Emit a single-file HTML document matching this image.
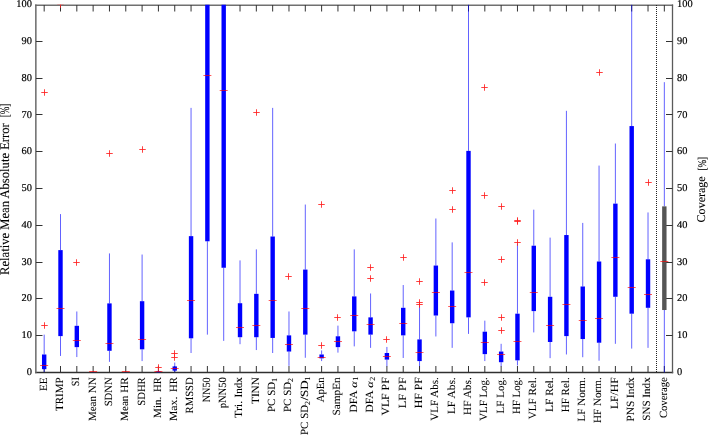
<!DOCTYPE html>
<html><head><meta charset="utf-8"><style>html,body{margin:0;padding:0;background:#fff;width:709px;height:436px;overflow:hidden}svg{display:block}text{text-rendering:geometricPrecision}</style></head>
<body>
<svg width="709" height="436" viewBox="0 0 709 436">
<defs><clipPath id="c"><rect x="35" y="4.75" width="639" height="367.75"/></clipPath></defs>
<rect width="709" height="436" fill="#fff"/>
<path d="M35.1 5.3H673.1" stroke="#707070" stroke-width="1.5" fill="none"/>
<path d="M35.1 372.6H673.2" stroke="#303030" stroke-width="1.5" fill="none"/>
<path d="M35.85 4.6V373.3" stroke="#6a6a6a" stroke-width="1.5" fill="none"/>
<path d="M672.5 4.6V373.3" stroke="#5a5a5a" stroke-width="1.3" fill="none"/>
<path d="M44.18 372V366M44.18 5V11.5M60.5 372V366M60.5 5V11.5M76.82 372V366M76.82 5V11.5M93.14 372V366M93.14 5V11.5M109.46 372V366M109.46 5V11.5M125.78 372V366M125.78 5V11.5M142.1 372V366M142.1 5V11.5M158.42 372V366M158.42 5V11.5M174.74 372V366M174.74 5V11.5M191.06 372V366M191.06 5V11.5M207.38 372V366M207.38 5V11.5M223.7 372V366M223.7 5V11.5M240.02 372V366M240.02 5V11.5M256.34 372V366M256.34 5V11.5M272.66 372V366M272.66 5V11.5M288.98 372V366M288.98 5V11.5M305.3 372V366M305.3 5V11.5M321.62 372V366M321.62 5V11.5M337.94 372V366M337.94 5V11.5M354.26 372V366M354.26 5V11.5M370.58 372V366M370.58 5V11.5M386.9 372V366M386.9 5V11.5M403.22 372V366M403.22 5V11.5M419.54 372V366M419.54 5V11.5M435.86 372V366M435.86 5V11.5M452.18 372V366M452.18 5V11.5M468.5 372V366M468.5 5V11.5M484.82 372V366M484.82 5V11.5M501.14 372V366M501.14 5V11.5M517.46 372V366M517.46 5V11.5M533.78 372V366M533.78 5V11.5M550.1 372V366M550.1 5V11.5M566.42 372V366M566.42 5V11.5M582.74 372V366M582.74 5V11.5M599.06 372V366M599.06 5V11.5M615.38 372V366M615.38 5V11.5M631.7 372V366M631.7 5V11.5M648.02 372V366M648.02 5V11.5M664.34 372V366M664.34 5V11.5M36 335.5H42.5M672.5 335.5H666M36 298.5H42.5M672.5 298.5H666M36 262.5H42.5M672.5 262.5H666M36 225.5H42.5M672.5 225.5H666M36 188.5H42.5M672.5 188.5H666M36 151.5H42.5M672.5 151.5H666M36 114.5H42.5M672.5 114.5H666M36 78.5H42.5M672.5 78.5H666M36 41.5H42.5M672.5 41.5H666" stroke="#333" stroke-width="1" fill="none"/>
<g clip-path="url(#c)">
<line x1="656.5" y1="5" x2="656.5" y2="372" stroke="#222" stroke-width="1" stroke-dasharray="1 1"/>
<line x1="44.18" y1="372.12" x2="44.18" y2="369.18" stroke="#0000ff" stroke-width="0.62"/>
<line x1="44.18" y1="354.48" x2="44.18" y2="334.63" stroke="#0000ff" stroke-width="0.62"/>
<rect x="41.98" y="354.48" width="4.4" height="14.70" fill="#0000ff"/>
<line x1="40.18" y1="365.5" x2="48.18" y2="365.5" stroke="#ff0000" stroke-width="1" stroke-opacity="0.65"/>
<path d="M41.25 325.50H47.75M44.5 322.25V328.75" stroke="#ff2020" stroke-width="1" fill="none" stroke-opacity="0.85"/>
<path d="M41.25 92.50H47.75M44.5 89.25V95.75" stroke="#ff2020" stroke-width="1" fill="none" stroke-opacity="0.85"/>
<line x1="60.5" y1="355.95" x2="60.5" y2="336.10" stroke="#0000ff" stroke-width="0.62"/>
<line x1="60.5" y1="250.11" x2="60.5" y2="214.09" stroke="#0000ff" stroke-width="0.62"/>
<rect x="58.30" y="250.11" width="4.4" height="86.00" fill="#0000ff"/>
<line x1="56.50" y1="308.5" x2="64.50" y2="308.5" stroke="#ff0000" stroke-width="1" stroke-opacity="0.65"/>
<path d="M57.25 4.50H63.75M60.5 1.25V7.75" stroke="#ff2020" stroke-width="1" fill="none" stroke-opacity="0.85"/>
<line x1="76.82" y1="357.05" x2="76.82" y2="347.12" stroke="#0000ff" stroke-width="0.62"/>
<line x1="76.82" y1="325.81" x2="76.82" y2="311.48" stroke="#0000ff" stroke-width="0.62"/>
<rect x="74.62" y="325.81" width="4.4" height="21.31" fill="#0000ff"/>
<line x1="72.82" y1="340.5" x2="80.82" y2="340.5" stroke="#ff0000" stroke-width="1" stroke-opacity="0.65"/>
<path d="M73.25 262.50H79.75M76.5 259.25V265.75" stroke="#ff2020" stroke-width="1" fill="none" stroke-opacity="0.85"/>
<line x1="93.14" y1="372.85" x2="93.14" y2="372.85" stroke="#0000ff" stroke-width="0.62"/>
<line x1="93.14" y1="372.67" x2="93.14" y2="372.48" stroke="#0000ff" stroke-width="0.62"/>
<rect x="90.94" y="372.67" width="4.4" height="0.18" fill="#0000ff"/>
<line x1="89.14" y1="371.5" x2="97.14" y2="371.5" stroke="#ff0000" stroke-width="1" stroke-opacity="0.65"/>
<line x1="109.46" y1="361.83" x2="109.46" y2="350.80" stroke="#0000ff" stroke-width="0.62"/>
<line x1="109.46" y1="303.39" x2="109.46" y2="253.41" stroke="#0000ff" stroke-width="0.62"/>
<rect x="107.26" y="303.39" width="4.4" height="47.41" fill="#0000ff"/>
<line x1="105.46" y1="343.5" x2="113.46" y2="343.5" stroke="#ff0000" stroke-width="1" stroke-opacity="0.65"/>
<path d="M106.25 153.50H112.75M109.5 150.25V156.75" stroke="#ff2020" stroke-width="1" fill="none" stroke-opacity="0.85"/>
<line x1="125.78" y1="372.85" x2="125.78" y2="372.85" stroke="#0000ff" stroke-width="0.62"/>
<line x1="125.78" y1="372.67" x2="125.78" y2="372.48" stroke="#0000ff" stroke-width="0.62"/>
<rect x="123.58" y="372.67" width="4.4" height="0.18" fill="#0000ff"/>
<line x1="121.78" y1="371.5" x2="129.78" y2="371.5" stroke="#ff0000" stroke-width="1" stroke-opacity="0.65"/>
<line x1="142.1" y1="361.09" x2="142.1" y2="349.33" stroke="#0000ff" stroke-width="0.62"/>
<line x1="142.1" y1="301.19" x2="142.1" y2="254.52" stroke="#0000ff" stroke-width="0.62"/>
<rect x="139.90" y="301.19" width="4.4" height="48.14" fill="#0000ff"/>
<line x1="138.10" y1="339.5" x2="146.10" y2="339.5" stroke="#ff0000" stroke-width="1" stroke-opacity="0.65"/>
<path d="M139.25 149.50H145.75M142.5 146.25V152.75" stroke="#ff2020" stroke-width="1" fill="none" stroke-opacity="0.85"/>
<line x1="158.42" y1="372.85" x2="158.42" y2="372.48" stroke="#0000ff" stroke-width="0.62"/>
<line x1="158.42" y1="371.38" x2="158.42" y2="370.65" stroke="#0000ff" stroke-width="0.62"/>
<rect x="156.22" y="371.38" width="4.4" height="1.10" fill="#0000ff"/>
<line x1="154.42" y1="371.5" x2="162.42" y2="371.5" stroke="#ff0000" stroke-width="1" stroke-opacity="0.65"/>
<path d="M155.25 367.50H161.75M158.5 364.25V370.75" stroke="#ff2020" stroke-width="1" fill="none" stroke-opacity="0.85"/>
<line x1="174.74" y1="372.48" x2="174.74" y2="370.65" stroke="#0000ff" stroke-width="0.62"/>
<line x1="174.74" y1="366.42" x2="174.74" y2="362.56" stroke="#0000ff" stroke-width="0.62"/>
<rect x="172.54" y="366.42" width="4.4" height="4.23" fill="#0000ff"/>
<line x1="170.74" y1="368.5" x2="178.74" y2="368.5" stroke="#ff0000" stroke-width="1" stroke-opacity="0.65"/>
<path d="M171.25 357.50H177.75M174.5 354.25V360.75" stroke="#ff2020" stroke-width="1" fill="none" stroke-opacity="0.85"/>
<path d="M171.25 353.50H177.75M174.5 350.25V356.75" stroke="#ff2020" stroke-width="1" fill="none" stroke-opacity="0.85"/>
<line x1="191.06" y1="353.00" x2="191.06" y2="338.31" stroke="#0000ff" stroke-width="0.62"/>
<line x1="191.06" y1="236.14" x2="191.06" y2="107.88" stroke="#0000ff" stroke-width="0.62"/>
<rect x="188.86" y="236.14" width="4.4" height="102.16" fill="#0000ff"/>
<line x1="187.06" y1="300.5" x2="195.06" y2="300.5" stroke="#ff0000" stroke-width="1" stroke-opacity="0.65"/>
<line x1="207.38" y1="334.63" x2="207.38" y2="241.29" stroke="#0000ff" stroke-width="0.62"/>
<line x1="207.38" y1="-13.02" x2="207.38" y2="-13.02" stroke="#0000ff" stroke-width="0.62"/>
<rect x="205.18" y="-13.02" width="4.4" height="254.31" fill="#0000ff"/>
<line x1="203.38" y1="75.5" x2="211.38" y2="75.5" stroke="#ff0000" stroke-width="1" stroke-opacity="0.65"/>
<line x1="223.7" y1="340.88" x2="223.7" y2="267.75" stroke="#0000ff" stroke-width="0.62"/>
<line x1="223.7" y1="-13.02" x2="223.7" y2="-13.02" stroke="#0000ff" stroke-width="0.62"/>
<rect x="221.50" y="-13.02" width="4.4" height="280.77" fill="#0000ff"/>
<line x1="219.70" y1="90.5" x2="227.70" y2="90.5" stroke="#ff0000" stroke-width="1" stroke-opacity="0.65"/>
<line x1="240.02" y1="344.19" x2="240.02" y2="337.20" stroke="#0000ff" stroke-width="0.62"/>
<line x1="240.02" y1="303.21" x2="240.02" y2="260.40" stroke="#0000ff" stroke-width="0.62"/>
<rect x="237.82" y="303.21" width="4.4" height="33.99" fill="#0000ff"/>
<line x1="236.02" y1="327.5" x2="244.02" y2="327.5" stroke="#ff0000" stroke-width="1" stroke-opacity="0.65"/>
<line x1="256.34" y1="350.06" x2="256.34" y2="337.20" stroke="#0000ff" stroke-width="0.62"/>
<line x1="256.34" y1="293.84" x2="256.34" y2="249.37" stroke="#0000ff" stroke-width="0.62"/>
<rect x="254.14" y="293.84" width="4.4" height="43.37" fill="#0000ff"/>
<line x1="252.34" y1="325.5" x2="260.34" y2="325.5" stroke="#ff0000" stroke-width="1" stroke-opacity="0.65"/>
<path d="M253.25 112.50H259.75M256.5 109.25V115.75" stroke="#ff2020" stroke-width="1" fill="none" stroke-opacity="0.85"/>
<line x1="272.66" y1="353.00" x2="272.66" y2="337.94" stroke="#0000ff" stroke-width="0.62"/>
<line x1="272.66" y1="236.51" x2="272.66" y2="107.88" stroke="#0000ff" stroke-width="0.62"/>
<rect x="270.46" y="236.51" width="4.4" height="101.43" fill="#0000ff"/>
<line x1="268.66" y1="300.5" x2="276.66" y2="300.5" stroke="#ff0000" stroke-width="1" stroke-opacity="0.65"/>
<line x1="288.98" y1="365.87" x2="288.98" y2="351.54" stroke="#0000ff" stroke-width="0.62"/>
<line x1="288.98" y1="335.37" x2="288.98" y2="311.48" stroke="#0000ff" stroke-width="0.62"/>
<rect x="286.78" y="335.37" width="4.4" height="16.17" fill="#0000ff"/>
<line x1="284.98" y1="344.5" x2="292.98" y2="344.5" stroke="#ff0000" stroke-width="1" stroke-opacity="0.65"/>
<path d="M285.25 276.50H291.75M288.5 273.25V279.75" stroke="#ff2020" stroke-width="1" fill="none" stroke-opacity="0.85"/>
<line x1="305.3" y1="357.78" x2="305.3" y2="334.63" stroke="#0000ff" stroke-width="0.62"/>
<line x1="305.3" y1="269.58" x2="305.3" y2="204.54" stroke="#0000ff" stroke-width="0.62"/>
<rect x="303.10" y="269.58" width="4.4" height="65.05" fill="#0000ff"/>
<line x1="301.30" y1="308.5" x2="309.30" y2="308.5" stroke="#ff0000" stroke-width="1" stroke-opacity="0.65"/>
<line x1="321.62" y1="361.09" x2="321.62" y2="358.33" stroke="#0000ff" stroke-width="0.62"/>
<line x1="321.62" y1="354.48" x2="321.62" y2="350.43" stroke="#0000ff" stroke-width="0.62"/>
<rect x="319.42" y="354.48" width="4.4" height="3.86" fill="#0000ff"/>
<line x1="317.62" y1="357.5" x2="325.62" y2="357.5" stroke="#ff0000" stroke-width="1" stroke-opacity="0.65"/>
<path d="M318.25 345.50H324.75M321.5 342.25V348.75" stroke="#ff2020" stroke-width="1" fill="none" stroke-opacity="0.85"/>
<path d="M318.25 204.50H324.75M321.5 201.25V207.75" stroke="#ff2020" stroke-width="1" fill="none" stroke-opacity="0.85"/>
<line x1="337.94" y1="352.64" x2="337.94" y2="347.12" stroke="#0000ff" stroke-width="0.62"/>
<line x1="337.94" y1="336.28" x2="337.94" y2="325.63" stroke="#0000ff" stroke-width="0.62"/>
<rect x="335.74" y="336.28" width="4.4" height="10.84" fill="#0000ff"/>
<line x1="333.94" y1="341.5" x2="341.94" y2="341.5" stroke="#ff0000" stroke-width="1" stroke-opacity="0.65"/>
<path d="M334.25 317.50H340.75M337.5 314.25V320.75" stroke="#ff2020" stroke-width="1" fill="none" stroke-opacity="0.85"/>
<line x1="354.26" y1="346.39" x2="354.26" y2="331.32" stroke="#0000ff" stroke-width="0.62"/>
<line x1="354.26" y1="296.41" x2="354.26" y2="249.37" stroke="#0000ff" stroke-width="0.62"/>
<rect x="352.06" y="296.41" width="4.4" height="34.91" fill="#0000ff"/>
<line x1="350.26" y1="315.5" x2="358.26" y2="315.5" stroke="#ff0000" stroke-width="1" stroke-opacity="0.65"/>
<line x1="370.58" y1="347.86" x2="370.58" y2="334.63" stroke="#0000ff" stroke-width="0.62"/>
<line x1="370.58" y1="317.36" x2="370.58" y2="293.47" stroke="#0000ff" stroke-width="0.62"/>
<rect x="368.38" y="317.36" width="4.4" height="17.27" fill="#0000ff"/>
<line x1="366.58" y1="324.5" x2="374.58" y2="324.5" stroke="#ff0000" stroke-width="1" stroke-opacity="0.65"/>
<path d="M367.25 278.50H373.75M370.5 275.25V281.75" stroke="#ff2020" stroke-width="1" fill="none" stroke-opacity="0.85"/>
<path d="M367.25 267.50H373.75M370.5 264.25V270.75" stroke="#ff2020" stroke-width="1" fill="none" stroke-opacity="0.85"/>
<line x1="386.9" y1="366.24" x2="386.9" y2="359.62" stroke="#0000ff" stroke-width="0.62"/>
<line x1="386.9" y1="353.00" x2="386.9" y2="346.94" stroke="#0000ff" stroke-width="0.62"/>
<rect x="384.70" y="353.00" width="4.4" height="6.62" fill="#0000ff"/>
<line x1="382.90" y1="356.5" x2="390.90" y2="356.5" stroke="#ff0000" stroke-width="1" stroke-opacity="0.65"/>
<path d="M383.25 339.50H389.75M386.5 336.25V342.75" stroke="#ff2020" stroke-width="1" fill="none" stroke-opacity="0.85"/>
<line x1="403.22" y1="357.97" x2="403.22" y2="335.37" stroke="#0000ff" stroke-width="0.62"/>
<line x1="403.22" y1="307.80" x2="403.22" y2="285.02" stroke="#0000ff" stroke-width="0.62"/>
<rect x="401.02" y="307.80" width="4.4" height="27.56" fill="#0000ff"/>
<line x1="399.22" y1="323.5" x2="407.22" y2="323.5" stroke="#ff0000" stroke-width="1" stroke-opacity="0.65"/>
<path d="M400.25 257.50H406.75M403.5 254.25V260.75" stroke="#ff2020" stroke-width="1" fill="none" stroke-opacity="0.85"/>
<line x1="419.54" y1="366.24" x2="419.54" y2="361.09" stroke="#0000ff" stroke-width="0.62"/>
<line x1="419.54" y1="339.41" x2="419.54" y2="305.60" stroke="#0000ff" stroke-width="0.62"/>
<rect x="417.34" y="339.41" width="4.4" height="21.68" fill="#0000ff"/>
<line x1="415.54" y1="352.5" x2="423.54" y2="352.5" stroke="#ff0000" stroke-width="1" stroke-opacity="0.65"/>
<path d="M416.25 304.50H422.75M419.5 301.25V307.75" stroke="#ff2020" stroke-width="1" fill="none" stroke-opacity="0.85"/>
<path d="M416.25 302.50H422.75M419.5 299.25V305.75" stroke="#ff2020" stroke-width="1" fill="none" stroke-opacity="0.85"/>
<path d="M416.25 281.50H422.75M419.5 278.25V284.75" stroke="#ff2020" stroke-width="1" fill="none" stroke-opacity="0.85"/>
<line x1="435.86" y1="336.47" x2="435.86" y2="315.52" stroke="#0000ff" stroke-width="0.62"/>
<line x1="435.86" y1="265.54" x2="435.86" y2="218.50" stroke="#0000ff" stroke-width="0.62"/>
<rect x="433.66" y="265.54" width="4.4" height="49.98" fill="#0000ff"/>
<line x1="431.86" y1="292.5" x2="439.86" y2="292.5" stroke="#ff0000" stroke-width="1" stroke-opacity="0.65"/>
<line x1="452.18" y1="347.86" x2="452.18" y2="323.24" stroke="#0000ff" stroke-width="0.62"/>
<line x1="452.18" y1="290.53" x2="452.18" y2="242.39" stroke="#0000ff" stroke-width="0.62"/>
<rect x="449.98" y="290.53" width="4.4" height="32.71" fill="#0000ff"/>
<line x1="448.18" y1="306.5" x2="456.18" y2="306.5" stroke="#ff0000" stroke-width="1" stroke-opacity="0.65"/>
<path d="M449.25 209.50H455.75M452.5 206.25V212.75" stroke="#ff2020" stroke-width="1" fill="none" stroke-opacity="0.85"/>
<path d="M449.25 190.50H455.75M452.5 187.25V193.75" stroke="#ff2020" stroke-width="1" fill="none" stroke-opacity="0.85"/>
<line x1="468.5" y1="333.90" x2="468.5" y2="317.36" stroke="#0000ff" stroke-width="0.62"/>
<line x1="468.5" y1="150.88" x2="468.5" y2="-13.02" stroke="#0000ff" stroke-width="0.62"/>
<rect x="466.30" y="150.88" width="4.4" height="166.48" fill="#0000ff"/>
<line x1="464.50" y1="272.5" x2="472.50" y2="272.5" stroke="#ff0000" stroke-width="1" stroke-opacity="0.65"/>
<line x1="484.82" y1="361.09" x2="484.82" y2="354.11" stroke="#0000ff" stroke-width="0.62"/>
<line x1="484.82" y1="331.69" x2="484.82" y2="320.67" stroke="#0000ff" stroke-width="0.62"/>
<rect x="482.62" y="331.69" width="4.4" height="22.42" fill="#0000ff"/>
<line x1="480.82" y1="342.5" x2="488.82" y2="342.5" stroke="#ff0000" stroke-width="1" stroke-opacity="0.65"/>
<path d="M481.25 282.50H487.75M484.5 279.25V285.75" stroke="#ff2020" stroke-width="1" fill="none" stroke-opacity="0.85"/>
<path d="M481.25 195.50H487.75M484.5 192.25V198.75" stroke="#ff2020" stroke-width="1" fill="none" stroke-opacity="0.85"/>
<path d="M481.25 87.50H487.75M484.5 84.25V90.75" stroke="#ff2020" stroke-width="1" fill="none" stroke-opacity="0.85"/>
<line x1="501.14" y1="366.24" x2="501.14" y2="362.19" stroke="#0000ff" stroke-width="0.62"/>
<line x1="501.14" y1="351.54" x2="501.14" y2="343.82" stroke="#0000ff" stroke-width="0.62"/>
<rect x="498.94" y="351.54" width="4.4" height="10.66" fill="#0000ff"/>
<line x1="497.14" y1="354.5" x2="505.14" y2="354.5" stroke="#ff0000" stroke-width="1" stroke-opacity="0.65"/>
<path d="M498.25 330.50H504.75M501.5 327.25V333.75" stroke="#ff2020" stroke-width="1" fill="none" stroke-opacity="0.85"/>
<path d="M498.25 317.50H504.75M501.5 314.25V320.75" stroke="#ff2020" stroke-width="1" fill="none" stroke-opacity="0.85"/>
<path d="M498.25 259.50H504.75M501.5 256.25V262.75" stroke="#ff2020" stroke-width="1" fill="none" stroke-opacity="0.85"/>
<path d="M498.25 206.50H504.75M501.5 203.25V209.75" stroke="#ff2020" stroke-width="1" fill="none" stroke-opacity="0.85"/>
<line x1="517.46" y1="365.50" x2="517.46" y2="360.36" stroke="#0000ff" stroke-width="0.62"/>
<line x1="517.46" y1="313.68" x2="517.46" y2="243.49" stroke="#0000ff" stroke-width="0.62"/>
<rect x="515.26" y="313.68" width="4.4" height="46.67" fill="#0000ff"/>
<line x1="513.46" y1="341.5" x2="521.46" y2="341.5" stroke="#ff0000" stroke-width="1" stroke-opacity="0.65"/>
<path d="M514.25 242.50H520.75M517.5 239.25V245.75" stroke="#ff2020" stroke-width="1" fill="none" stroke-opacity="0.85"/>
<path d="M514.25 221.50H520.75M517.5 218.25V224.75" stroke="#ff2020" stroke-width="1" fill="none" stroke-opacity="0.85"/>
<path d="M514.25 220.50H520.75M517.5 217.25V223.75" stroke="#ff2020" stroke-width="1" fill="none" stroke-opacity="0.85"/>
<line x1="533.78" y1="332.43" x2="533.78" y2="311.11" stroke="#0000ff" stroke-width="0.62"/>
<line x1="533.78" y1="245.70" x2="533.78" y2="209.68" stroke="#0000ff" stroke-width="0.62"/>
<rect x="531.58" y="245.70" width="4.4" height="65.41" fill="#0000ff"/>
<line x1="529.78" y1="292.5" x2="537.78" y2="292.5" stroke="#ff0000" stroke-width="1" stroke-opacity="0.65"/>
<line x1="550.1" y1="358.15" x2="550.1" y2="341.98" stroke="#0000ff" stroke-width="0.62"/>
<line x1="550.1" y1="296.78" x2="550.1" y2="237.61" stroke="#0000ff" stroke-width="0.62"/>
<rect x="547.90" y="296.78" width="4.4" height="45.20" fill="#0000ff"/>
<line x1="546.10" y1="325.5" x2="554.10" y2="325.5" stroke="#ff0000" stroke-width="1" stroke-opacity="0.65"/>
<line x1="566.42" y1="354.48" x2="566.42" y2="336.10" stroke="#0000ff" stroke-width="0.62"/>
<line x1="566.42" y1="235.04" x2="566.42" y2="110.82" stroke="#0000ff" stroke-width="0.62"/>
<rect x="564.22" y="235.04" width="4.4" height="101.06" fill="#0000ff"/>
<line x1="562.42" y1="304.5" x2="570.42" y2="304.5" stroke="#ff0000" stroke-width="1" stroke-opacity="0.65"/>
<line x1="582.74" y1="357.23" x2="582.74" y2="339.04" stroke="#0000ff" stroke-width="0.62"/>
<line x1="582.74" y1="286.49" x2="582.74" y2="222.91" stroke="#0000ff" stroke-width="0.62"/>
<rect x="580.54" y="286.49" width="4.4" height="52.55" fill="#0000ff"/>
<line x1="578.74" y1="320.5" x2="586.74" y2="320.5" stroke="#ff0000" stroke-width="1" stroke-opacity="0.65"/>
<line x1="599.06" y1="360.72" x2="599.06" y2="342.72" stroke="#0000ff" stroke-width="0.62"/>
<line x1="599.06" y1="261.50" x2="599.06" y2="165.58" stroke="#0000ff" stroke-width="0.62"/>
<rect x="596.86" y="261.50" width="4.4" height="81.22" fill="#0000ff"/>
<line x1="595.06" y1="318.5" x2="603.06" y2="318.5" stroke="#ff0000" stroke-width="1" stroke-opacity="0.65"/>
<path d="M596.25 72.50H602.75M599.5 69.25V75.75" stroke="#ff2020" stroke-width="1" fill="none" stroke-opacity="0.85"/>
<line x1="615.38" y1="343.82" x2="615.38" y2="296.78" stroke="#0000ff" stroke-width="0.62"/>
<line x1="615.38" y1="203.62" x2="615.38" y2="143.53" stroke="#0000ff" stroke-width="0.62"/>
<rect x="613.18" y="203.62" width="4.4" height="93.16" fill="#0000ff"/>
<line x1="611.38" y1="257.5" x2="619.38" y2="257.5" stroke="#ff0000" stroke-width="1" stroke-opacity="0.65"/>
<line x1="631.7" y1="348.60" x2="631.7" y2="313.68" stroke="#0000ff" stroke-width="0.62"/>
<line x1="631.7" y1="126.07" x2="631.7" y2="-13.02" stroke="#0000ff" stroke-width="0.62"/>
<rect x="629.50" y="126.07" width="4.4" height="187.61" fill="#0000ff"/>
<line x1="627.70" y1="287.5" x2="635.70" y2="287.5" stroke="#ff0000" stroke-width="1" stroke-opacity="0.65"/>
<line x1="648.02" y1="347.86" x2="648.02" y2="307.80" stroke="#0000ff" stroke-width="0.62"/>
<line x1="648.02" y1="259.29" x2="648.02" y2="212.44" stroke="#0000ff" stroke-width="0.62"/>
<rect x="645.82" y="259.29" width="4.4" height="48.51" fill="#0000ff"/>
<line x1="644.02" y1="294.5" x2="652.02" y2="294.5" stroke="#ff0000" stroke-width="1" stroke-opacity="0.65"/>
<path d="M645.25 182.50H651.75M648.5 179.25V185.75" stroke="#ff2020" stroke-width="1" fill="none" stroke-opacity="0.85"/>
<line x1="664.34" y1="376.53" x2="664.34" y2="310.01" stroke="#0000ff" stroke-width="0.62"/>
<line x1="664.34" y1="206.37" x2="664.34" y2="82.16" stroke="#0000ff" stroke-width="0.62"/>
<rect x="662.14" y="206.37" width="4.4" height="103.64" fill="#555555"/>
<line x1="660.34" y1="261.5" x2="668.34" y2="261.5" stroke="#ff0000" stroke-width="1" stroke-opacity="0.65"/>
</g>
<g font-family="Liberation Serif, serif" font-size="10.4" fill="#000" stroke="#000" stroke-width="0.18">
<text x="31.9" y="374.75" text-anchor="end">0</text>
<text x="677.1" y="374.75">0</text>
<text x="31.9" y="338.00" text-anchor="end">10</text>
<text x="677.1" y="338.00">10</text>
<text x="31.9" y="301.25" text-anchor="end">20</text>
<text x="677.1" y="301.25">20</text>
<text x="31.9" y="264.50" text-anchor="end">30</text>
<text x="677.1" y="264.50">30</text>
<text x="31.9" y="227.75" text-anchor="end">40</text>
<text x="677.1" y="227.75">40</text>
<text x="31.9" y="191.00" text-anchor="end">50</text>
<text x="677.1" y="191.00">50</text>
<text x="31.9" y="154.25" text-anchor="end">60</text>
<text x="677.1" y="154.25">60</text>
<text x="31.9" y="117.50" text-anchor="end">70</text>
<text x="677.1" y="117.50">70</text>
<text x="31.9" y="80.75" text-anchor="end">80</text>
<text x="677.1" y="80.75">80</text>
<text x="31.9" y="44.00" text-anchor="end">90</text>
<text x="677.1" y="44.00">90</text>
<text x="31.9" y="7.25" text-anchor="end">100</text>
<text x="677.1" y="7.25">100</text>
</g>
<g font-family="Liberation Serif, serif" font-size="11" fill="#000" stroke="#000" stroke-width="0.06">
<text transform="translate(46.58,377.3) rotate(-90)" text-anchor="end" textLength="13.8" lengthAdjust="spacingAndGlyphs">EE</text>
<text transform="translate(62.90,377.3) rotate(-90)" text-anchor="end" textLength="33.8" lengthAdjust="spacingAndGlyphs">TRIMP</text>
<text transform="translate(79.22,377.3) rotate(-90)" text-anchor="end" textLength="8.9" lengthAdjust="spacingAndGlyphs">SI</text>
<text transform="translate(95.54,377.3) rotate(-90)" text-anchor="end" textLength="43.8" lengthAdjust="spacingAndGlyphs">Mean NN</text>
<text transform="translate(111.86,377.3) rotate(-90)" text-anchor="end" textLength="29" lengthAdjust="spacingAndGlyphs">SDNN</text>
<text transform="translate(128.18,377.3) rotate(-90)" text-anchor="end" textLength="43.7" lengthAdjust="spacingAndGlyphs">Mean HR</text>
<text transform="translate(144.50,377.3) rotate(-90)" text-anchor="end" textLength="28.4" lengthAdjust="spacingAndGlyphs">SDHR</text>
<text transform="translate(160.82,418.0) rotate(-90)" textLength="21.3" lengthAdjust="spacingAndGlyphs">Min.</text>
<text transform="translate(160.82,392.0) rotate(-90)" textLength="14.8" lengthAdjust="spacingAndGlyphs">HR</text>
<text transform="translate(177.14,421.0) rotate(-90)" textLength="24.3" lengthAdjust="spacingAndGlyphs">Max.</text>
<text transform="translate(177.14,392.0) rotate(-90)" textLength="14.8" lengthAdjust="spacingAndGlyphs">HR</text>
<text transform="translate(193.46,377.3) rotate(-90)" text-anchor="end" textLength="36.1" lengthAdjust="spacingAndGlyphs">RMSSD</text>
<text transform="translate(209.78,377.3) rotate(-90)" text-anchor="end" textLength="25" lengthAdjust="spacingAndGlyphs">NN50</text>
<text transform="translate(226.10,377.3) rotate(-90)" text-anchor="end" textLength="31" lengthAdjust="spacingAndGlyphs">pNN50</text>
<text transform="translate(242.42,418.0) rotate(-90)" textLength="17.2" lengthAdjust="spacingAndGlyphs">Tri.</text>
<text transform="translate(242.42,397.5) rotate(-90)" textLength="20.4" lengthAdjust="spacingAndGlyphs">Indx</text>
<text transform="translate(258.74,377.3) rotate(-90)" text-anchor="end" textLength="26.6" lengthAdjust="spacingAndGlyphs">TINN</text>
<text transform="translate(275.06,412.0) rotate(-90)" textLength="30.2" lengthAdjust="spacingAndGlyphs">PC SD</text>
<text transform="translate(276.96,381.9) rotate(-90)" font-size="7.8">1</text>
<text transform="translate(291.38,412.0) rotate(-90)" textLength="30.2" lengthAdjust="spacingAndGlyphs">PC SD</text>
<text transform="translate(293.28,381.9) rotate(-90)" font-size="7.8">2</text>
<text transform="translate(307.70,435.0) rotate(-90)" textLength="30.2" lengthAdjust="spacingAndGlyphs">PC SD</text>
<text transform="translate(309.60,404.9) rotate(-90)" font-size="7.8">2</text>
<text transform="translate(307.70,400.6) rotate(-90)" textLength="20.4" lengthAdjust="spacingAndGlyphs">/SD</text>
<text transform="translate(309.60,380.7) rotate(-90)" font-size="7.8">1</text>
<text transform="translate(324.02,377.3) rotate(-90)" text-anchor="end" textLength="25" lengthAdjust="spacingAndGlyphs">ApEn</text>
<text transform="translate(340.34,377.3) rotate(-90)" text-anchor="end" textLength="38.3" lengthAdjust="spacingAndGlyphs">SampEn</text>
<text transform="translate(356.66,412.6) rotate(-90)" textLength="22.0" lengthAdjust="spacingAndGlyphs">DFA</text>
<text transform="translate(356.66,387.7) rotate(-90)" font-size="9.6" font-style="italic" textLength="6.4" lengthAdjust="spacingAndGlyphs">α</text>
<text transform="translate(358.26,380.8) rotate(-90)" font-size="7.8">1</text>
<text transform="translate(372.98,412.6) rotate(-90)" textLength="22.0" lengthAdjust="spacingAndGlyphs">DFA</text>
<text transform="translate(372.98,387.7) rotate(-90)" font-size="9.6" font-style="italic" textLength="6.4" lengthAdjust="spacingAndGlyphs">α</text>
<text transform="translate(374.58,380.8) rotate(-90)" font-size="7.8">2</text>
<text transform="translate(389.30,377.3) rotate(-90)" text-anchor="end" textLength="38.3" lengthAdjust="spacingAndGlyphs">VLF PF</text>
<text transform="translate(405.62,377.3) rotate(-90)" text-anchor="end" textLength="31" lengthAdjust="spacingAndGlyphs">LF PF</text>
<text transform="translate(421.94,377.3) rotate(-90)" text-anchor="end" textLength="31" lengthAdjust="spacingAndGlyphs">HF PF</text>
<text transform="translate(438.26,377.3) rotate(-90)" text-anchor="end" textLength="43.5" lengthAdjust="spacingAndGlyphs">VLF Abs.</text>
<text transform="translate(454.58,377.3) rotate(-90)" text-anchor="end" textLength="36.8" lengthAdjust="spacingAndGlyphs">LF Abs.</text>
<text transform="translate(470.90,377.3) rotate(-90)" text-anchor="end" textLength="37.6" lengthAdjust="spacingAndGlyphs">HF Abs.</text>
<text transform="translate(487.22,377.3) rotate(-90)" text-anchor="end" textLength="43.5" lengthAdjust="spacingAndGlyphs">VLF Log.</text>
<text transform="translate(503.54,377.3) rotate(-90)" text-anchor="end" textLength="36.1" lengthAdjust="spacingAndGlyphs">LF Log.</text>
<text transform="translate(519.86,377.3) rotate(-90)" text-anchor="end" textLength="36.8" lengthAdjust="spacingAndGlyphs">HF Log.</text>
<text transform="translate(536.18,377.3) rotate(-90)" text-anchor="end" textLength="42" lengthAdjust="spacingAndGlyphs">VLF Rel.</text>
<text transform="translate(552.50,377.3) rotate(-90)" text-anchor="end" textLength="34.6" lengthAdjust="spacingAndGlyphs">LF Rel.</text>
<text transform="translate(568.82,377.3) rotate(-90)" text-anchor="end" textLength="35" lengthAdjust="spacingAndGlyphs">HF Rel.</text>
<text transform="translate(585.14,377.3) rotate(-90)" text-anchor="end" textLength="44.2" lengthAdjust="spacingAndGlyphs">LF Norm.</text>
<text transform="translate(601.46,377.3) rotate(-90)" text-anchor="end" textLength="45.7" lengthAdjust="spacingAndGlyphs">HF Norm.</text>
<text transform="translate(617.78,377.3) rotate(-90)" text-anchor="end" textLength="31.7" lengthAdjust="spacingAndGlyphs">LF/HF</text>
<text transform="translate(634.10,377.3) rotate(-90)" text-anchor="end" textLength="44.2" lengthAdjust="spacingAndGlyphs">PNS Indx</text>
<text transform="translate(650.42,377.3) rotate(-90)" text-anchor="end" textLength="43.5" lengthAdjust="spacingAndGlyphs">SNS Indx</text>
<text transform="translate(666.74,377.3) rotate(-90)" text-anchor="end" textLength="40.8" lengthAdjust="spacingAndGlyphs">Coverage</text>
</g>
<text transform="translate(8.7,275.0) rotate(-90)" font-family="Liberation Serif, serif" font-size="13.2" fill="#000" stroke="#000" stroke-width="0.1" textLength="151.8" lengthAdjust="spacingAndGlyphs">Relative Mean Absolute Error</text>
<text transform="translate(8.7,117.2) rotate(-90)" font-family="Liberation Serif, serif" font-size="13.2" fill="#000" stroke="#000" stroke-width="0.1" textLength="13.6" lengthAdjust="spacingAndGlyphs">[%]</text>
<text transform="translate(705.3,222.4) rotate(-90)" font-family="Liberation Serif, serif" font-size="11.9" fill="#000" stroke="#000" stroke-width="0.1" textLength="46.1" lengthAdjust="spacingAndGlyphs">Coverage</text>
<text transform="translate(705.8,170.6) rotate(-90)" font-family="Liberation Serif, serif" font-size="11.9" fill="#000" stroke="#000" stroke-width="0.1" textLength="13.6" lengthAdjust="spacingAndGlyphs">[%]</text>
</svg>
</body></html>
